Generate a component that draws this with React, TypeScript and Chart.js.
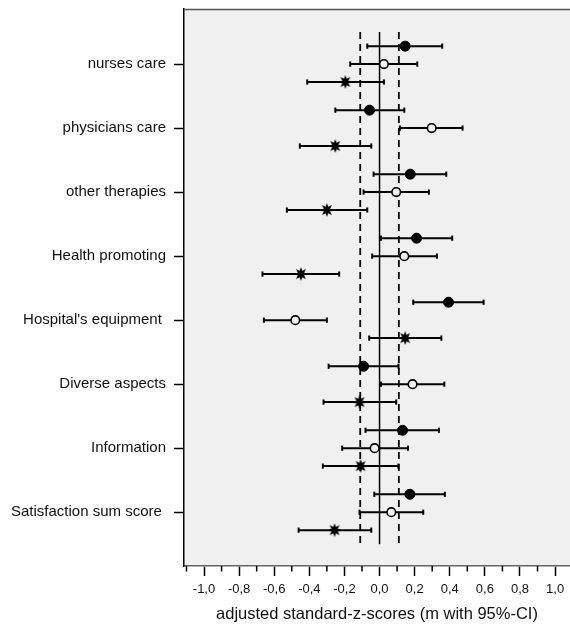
import React, { useEffect, useRef } from "react";
import { Chart, registerables } from "chart.js";

Chart.register(...registerables);

// ---------- data ----------
const categories = [
  "nurses care",
  "physicians care",
  "other therapies",
  "Health promoting",
  "Hospital's equipment ",
  "Diverse aspects",
  "Information",
  "Satisfaction sum score ",
];

// filled circles
const filledMean = [0.146, -0.057, 0.175, 0.211, 0.393, -0.091, 0.131, 0.173];
const filledLow = [-0.07, -0.252, -0.034, 0.008, 0.192, -0.29, -0.08, -0.03];
const filledHigh = [0.357, 0.141, 0.38, 0.414, 0.593, 0.108, 0.338, 0.372];

// open circles
const openMean = [0.025, 0.297, 0.095, 0.141, -0.48, 0.188, -0.028, 0.067];
const openLow = [-0.167, 0.116, -0.091, -0.042, -0.659, 0.008, -0.213, -0.114];
const openHigh = [0.215, 0.473, 0.281, 0.327, -0.3, 0.369, 0.162, 0.249];

// stars
const starMean = [-0.195, -0.252, -0.3, -0.448, 0.146, -0.114, -0.108, -0.256];
const starLow = [-0.412, -0.454, -0.528, -0.667, -0.059, -0.319, -0.323, -0.461];
const starHigh = [0.025, -0.047, -0.07, -0.23, 0.352, 0.095, 0.107, -0.047];

// reference lines
const dashedRefs = [-0.11, 0.11];
const solidRef = 0;
const refSpan = [-0.5, 7.5];

// axis ticks
const xTickValues = [
  -1.1, -1.0, -0.9, -0.8, -0.7, -0.6, -0.5, -0.4, -0.3, -0.2, -0.1, 0.0, 0.1,
  0.2, 0.3, 0.4, 0.5, 0.6, 0.7, 0.8, 0.9, 1.0,
];
const xMajorTicks = [-1.0, -0.8, -0.6, -0.4, -0.2, 0.0, 0.2, 0.4, 0.6, 0.8, 1.0];
const yTickValues = [0, 1, 2, 3, 4, 5, 6, 7];

// ---------- layout constants ----------
const ROW = 0.28;
const X_MIN = -1.114;
const X_MAX = 1.085;
const Y_MIN = -0.86;
const Y_MAX = 7.84;
const BG = "#f0f0f0";
const FONT = "'Liberation Sans', Arial, Helvetica, sans-serif";

const isMajor = (v: number) => xMajorTicks.some((m) => Math.abs(m - v) < 1e-6);

function makeStar(): HTMLCanvasElement {
  const s = 16;
  const c = document.createElement("canvas");
  c.width = s;
  c.height = s;
  const ctx = c.getContext("2d")!;
  const cx = s / 2;
  const cy = s / 2;
  const R = 7;
  const r = 3.4;
  const n = 8;
  ctx.beginPath();
  for (let i = 0; i < 2 * n; i++) {
    const ang = -Math.PI / 2 + (i * Math.PI) / n;
    const rad = i % 2 === 0 ? R : r;
    const px = cx + Math.cos(ang) * rad;
    const py = cy + Math.sin(ang) * rad;
    if (i === 0) ctx.moveTo(px, py);
    else ctx.lineTo(px, py);
  }
  ctx.closePath();
  ctx.fillStyle = "#000";
  ctx.fill();
  return c;
}

const zeroPad = (scale: any) => {
  scale.paddingTop = 0;
  scale.paddingBottom = 0;
  scale.paddingLeft = 0;
  scale.paddingRight = 0;
};

export default function App() {
  const ref = useRef<HTMLCanvasElement | null>(null);

  useEffect(() => {
    if (!ref.current) return;
    const star = makeStar();

    const ciDatasets: any[] = [];
    const groups = [
      { low: filledLow, high: filledHigh, off: -ROW },
      { low: openLow, high: openHigh, off: 0 },
      { low: starLow, high: starHigh, off: ROW },
    ];
    groups.forEach((g) => {
      categories.forEach((_, i) => {
        ciDatasets.push({
          data: [
            { x: g.low[i], y: i + g.off },
            { x: g.high[i], y: i + g.off },
          ],
          showLine: true,
          borderColor: "#000",
          borderWidth: 2,
          pointStyle: "line",
          pointRotation: 90,
          pointRadius: 2.6,
          pointBorderWidth: 2,
          pointBorderColor: "#000",
          order: 20,
        });
      });
    });

    const refDatasets: any[] = [
      ...dashedRefs.map((v) => ({
        data: [
          { x: v, y: refSpan[0] },
          { x: v, y: refSpan[1] },
        ],
        showLine: true,
        borderColor: "#000",
        borderWidth: 1.8,
        borderDash: [7, 5],
        pointRadius: 0,
        order: 30,
      })),
      {
        data: [
          { x: solidRef, y: refSpan[0] },
          { x: solidRef, y: refSpan[1] },
        ],
        showLine: true,
        borderColor: "#000",
        borderWidth: 1.5,
        pointRadius: 0,
        order: 30,
      },
    ];

    const markerDatasets: any[] = [
      {
        data: categories.map((_, i) => ({ x: filledMean[i], y: i - ROW })),
        pointStyle: "circle",
        pointRadius: 5,
        pointBorderWidth: 1,
        pointBackgroundColor: "#000",
        pointBorderColor: "#000",
        order: 1,
      },
      {
        data: categories.map((_, i) => ({ x: openMean[i], y: i })),
        pointStyle: "circle",
        pointRadius: 4.3,
        pointBorderWidth: 1.6,
        pointBackgroundColor: BG,
        pointBorderColor: "#000",
        order: 1,
      },
      {
        data: categories.map((_, i) => ({ x: starMean[i], y: i + ROW })),
        pointStyle: star,
        pointRadius: 7,
        order: 1,
      },
    ];

    const bgPlugin = {
      id: "plotBg",
      beforeDraw(chart: any) {
        const { ctx, chartArea } = chart;
        ctx.save();
        ctx.fillStyle = BG;
        ctx.fillRect(chartArea.left, chartArea.top, chartArea.right - chartArea.left, chartArea.bottom - chartArea.top);
        ctx.restore();
      },
      afterDraw(chart: any) {
        const { ctx, chartArea } = chart;
        const xs = chart.scales.x;
        ctx.save();
        ctx.strokeStyle = "#555";
        ctx.lineWidth = 1.5;
        ctx.beginPath();
        ctx.moveTo(chartArea.left, chartArea.top + 0.5);
        ctx.lineTo(chartArea.right, chartArea.top + 0.5);
        ctx.stroke();
        ctx.strokeStyle = "#000";
        ctx.lineWidth = 1.5;
        xTickValues.forEach((v) => {
          if (isMajor(v)) return;
          const px = xs.getPixelForValue(v);
          ctx.beginPath();
          ctx.moveTo(px, chartArea.bottom);
          ctx.lineTo(px, chartArea.bottom + 5.5);
          ctx.stroke();
        });
        ctx.restore();
      },
    };

    const chart = new Chart(ref.current, {
      type: "scatter",
      data: { datasets: [...refDatasets, ...ciDatasets, ...markerDatasets] },
      options: {
        animation: false,
        responsive: false,
        events: [],
        layout: { autoPadding: false, padding: { top: 9, left: 0, right: 0, bottom: 0 } },
        plugins: {
          legend: { display: false },
          tooltip: { enabled: false },
        },
        scales: {
          x: {
            type: "linear",
            position: "bottom",
            min: X_MIN,
            max: X_MAX,
            afterBuildTicks: (scale: any) => {
              scale.ticks = xTickValues.map((v) => ({ value: v }));
            },
            afterFit: (scale: any) => {
              scale.height = 58;
              zeroPad(scale);
            },
            grid: {
              display: true,
              drawOnChartArea: false,
              drawTicks: true,
              tickLength: 10,
              tickWidth: 1.5,
              tickColor: (c: any) => (c.tick && isMajor(c.tick.value) ? "#000" : "rgba(0,0,0,0)"),
            },
            border: { display: true, color: "#666", width: 1.5 },
            ticks: {
              autoSkip: false,
              maxRotation: 0,
              minRotation: 0,
              padding: 6,
              color: "#111",
              font: { family: FONT, size: 13 },
              callback: (v: any) => {
                const n = Number(v);
                if (!isMajor(n)) return "";
                return (Math.abs(n) < 1e-9 ? 0 : n).toFixed(1).replace(".", ",");
              },
            },
            title: {
              display: true,
              text: "adjusted standard-z-scores (m with 95%-CI)",
              color: "#111",
              font: { family: FONT, size: 16.5 },
              padding: { top: 0, bottom: 0 },
            },
          },
          y: {
            type: "linear",
            position: "left",
            reverse: true,
            min: Y_MIN,
            max: Y_MAX,
            afterBuildTicks: (scale: any) => {
              scale.ticks = yTickValues.map((v) => ({ value: v }));
            },
            afterFit: (scale: any) => {
              scale.width = 184;
              zeroPad(scale);
            },
            grid: {
              display: true,
              drawOnChartArea: false,
              drawTicks: true,
              tickLength: 10,
              tickWidth: 1.5,
              tickColor: "#000",
            },
            border: { display: true, color: "#000", width: 1.5 },
            ticks: {
              autoSkip: false,
              padding: 8,
              color: "#111",
              font: { family: FONT, size: 15 },
              callback: (v: any) => categories[Number(v)] ?? "",
            },
          },
        },
      },
      plugins: [bgPlugin],
    } as any);

    return () => chart.destroy();
  }, []);

  return (
    <div style={{ position: "fixed", left: 0, top: 0, width: 570, height: 624, background: "#fff" }}>
      <canvas ref={ref} width={570} height={624} style={{ display: "block", width: 570, height: 624 }} />
    </div>
  );
}
